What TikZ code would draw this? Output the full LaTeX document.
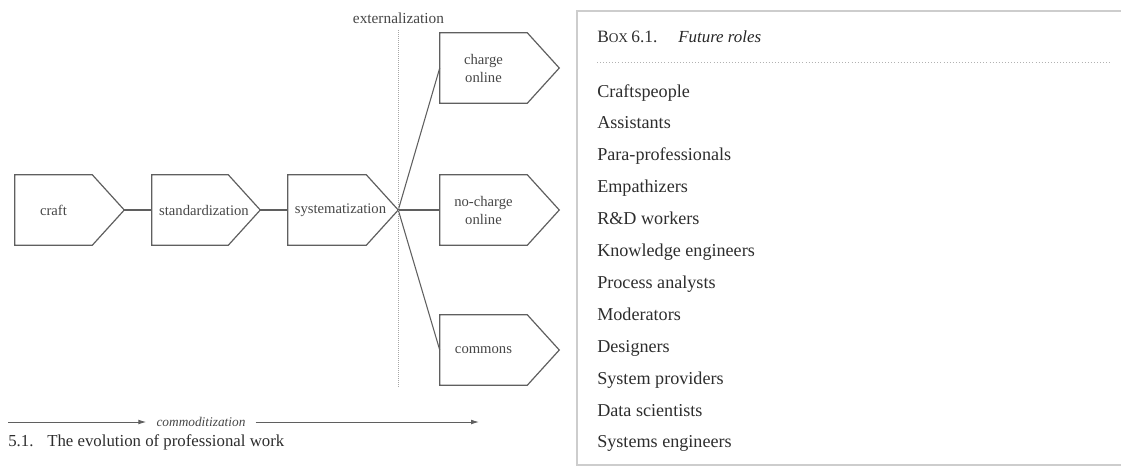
\documentclass[tikz,border=0pt]{standalone}
\usepackage{fontspec}
\setmainfont{Liberation Serif}
\usetikzlibrary{calc,arrows.meta}
\definecolor{diagline}{RGB}{95,95,95}
\definecolor{diagtext}{RGB}{70,70,70}
\definecolor{boxline}{RGB}{205,205,205}
\definecolor{boxtext}{RGB}{45,45,45}
\newcommand\pentshape[6]{%
  \node[pentbox, minimum width=#4*0.75pt] (#1) at (#2,#3) {};
  \draw[pentline] (#1.north west) -- (#1.north east) -- ($(#1.east)+(32,0)$) coordinate (#1-tip) -- (#1.south east) -- (#1.south west) -- cycle;
  \node[pentlabel] (#1-lbl) at (#6,#3) {#5};}
\tikzset{
  pentbox/.style={inner sep=0pt, minimum height=52.5pt},
  pentlabel/.style={inner sep=0pt, align=center, text=diagtext, font=\fontsize{11}{13.5}\selectfont},
  pentline/.style={draw=diagline, line width=0.9pt, line join=miter},
  conn/.style={draw=diagline, line width=0.8pt},
  extline/.style={draw=gray!70, line width=0.7pt, dash pattern=on 0.6pt off 0.9pt},
  comarrow/.style={draw=diagline, line width=0.7pt, -{Latex[length=6pt,width=3.6pt]}},
  boxframe/.style={draw=boxline, line width=1.2pt},
  boxsep/.style={draw=gray!60, line width=0.7pt, dash pattern=on 0.7pt off 1.6pt},
  item/.style={anchor=base west, inner sep=0pt, text=boxtext, font=\fontsize{13.6}{16}\selectfont},
}
\begin{document}
\begin{tikzpicture}[x=0.75pt,y=-0.75pt]
\useasboundingbox (0,0) rectangle (1121,468);
% left diagram
\pentshape{craft}{53.5}{210}{77}{craft}{53.5}
\pentshape{stand}{190}{210}{76}{standardization}{204}
\pentshape{syst}{327}{210}{78}{systematization}{340.5}
\pentshape{charge}{483.5}{68}{87}{charge\\online}{483.5}
\pentshape{nocharge}{483.5}{210}{87}{no-charge\\online}{483.5}
\pentshape{commons}{483.5}{350}{87}{commons}{483.5}
\draw[conn] (craft-tip) -- (stand.west);
\draw[conn] (stand-tip) -- (syst.west);
\draw[conn] (syst-tip) -- (charge.west);
\draw[conn] (syst-tip) -- (nocharge.west);
\draw[conn] (syst-tip) -- (commons.west);
% externalization
\coordinate (extTop) at (398,30);
\coordinate (extBot) at (398,387);
\draw[extline] (extTop) -- (extBot);
\node[anchor=base, inner sep=0pt, text=diagtext, font=\fontsize{11.5}{13}\selectfont] (ext) at (398.5,23) {externalization};
% commoditization
\node[inner xsep=7.5pt, inner ysep=0pt, text=diagtext, font=\fontsize{10}{12}\selectfont\itshape] (comm) at (201,422) {commoditization};
\coordinate (comL) at (8,422);
\coordinate (comR) at (479,422);
\draw[comarrow] (comL) -- (comm.west);
\draw[comarrow] (comm.east) -- (comR);
% caption
\node[anchor=base west, inner sep=0pt, text=boxtext, font=\fontsize{12.6}{14}\selectfont] (capnum) at (8,446) {5.1.};
\node[anchor=base west, inner sep=0pt, text=boxtext, font=\fontsize{12.6}{14}\selectfont] (captext) at (47,446) {The evolution of professional work};
% box
\coordinate (bTR) at (1121,11);
\coordinate (bTL) at (577,11);
\coordinate (bBL) at (577,465);
\coordinate (bBR) at (1121,465);
\draw[boxframe] (bTR) -- (bTL) -- (bBL) -- (bBR);
\node[anchor=base west, inner sep=0pt, text=boxtext] (boxnum) at (597,42) {\fontsize{13}{15}\selectfont B\fontsize{10}{15}\selectfont OX \fontsize{13}{15}\selectfont 6.1.};
\node[anchor=base west, inner sep=0pt, text=black!85, font=\fontsize{12.7}{15}\selectfont\itshape] (boxtitle) at (678,42) {Future roles};
\coordinate (sepL) at (597,62);
\coordinate (sepR) at (1112,62);
\draw[boxsep] (sepL) -- (sepR);
\foreach \t [count=\i from 0] in {Craftspeople,Assistants,Para-professionals,Empathizers,R\&D workers,Knowledge engineers,Process analysts,Moderators,Designers,System providers,Data scientists,Systems engineers}{
  \node[item] (item\i) at (597,97+31.9*\i) {\t};
}
\end{tikzpicture}
\end{document}
